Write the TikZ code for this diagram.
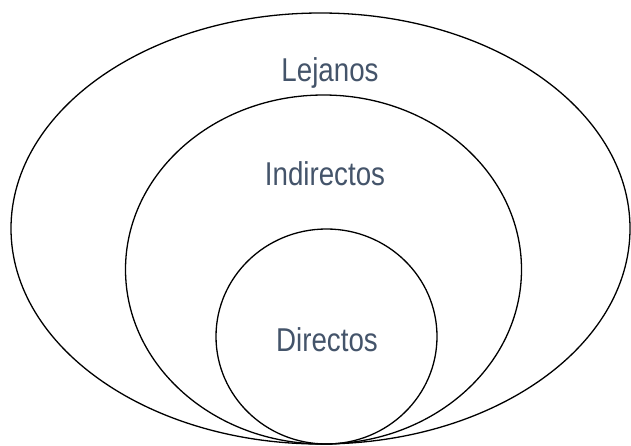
\documentclass[tikz,border=0pt]{standalone}
\usepackage{fontspec}
\setmainfont{Liberation Sans}
\definecolor{txt}{HTML}{44546A}
\begin{document}
\begin{tikzpicture}[x=1pt,y=-1pt,
  ring/.style={draw=black,line width=1.3pt},
  lbl/.style={text=txt,font=\fontsize{33}{38}\selectfont,inner sep=0pt,xscale=0.84}]
\useasboundingbox (0,0) rectangle (631,445);
\draw[ring] (320.5,228.5) ellipse [x radius=309.5, y radius=215.5];
\draw[ring] (323.5,269.5) ellipse [x radius=198, y radius=174.5];
\draw[ring] (326.5,336.5) ellipse [x radius=110.5, y radius=107.5];
\node[lbl] (lej) at (330,73) {Lejanos};
\node[lbl] (ind) at (325,174) {Indirectos};
\node[lbl] (dir) at (327,340) {Directos};
\end{tikzpicture}
\end{document}
